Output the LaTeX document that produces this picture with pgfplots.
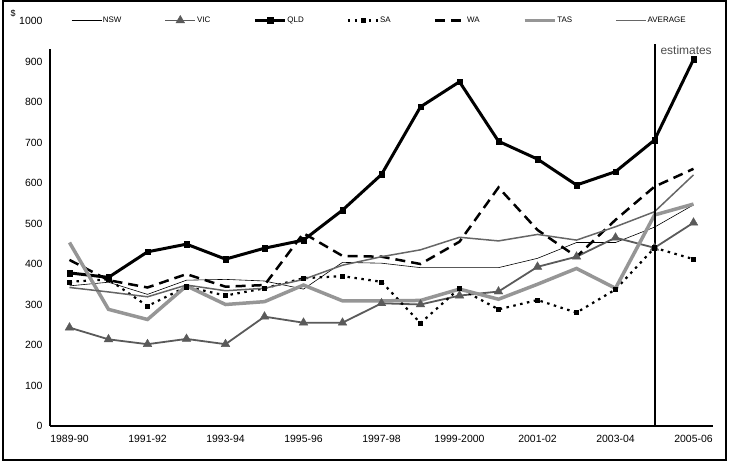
\documentclass[border=0pt]{standalone}
\usepackage{fontspec}
\setmainfont{Liberation Sans}
\usepackage{pgfplots}
\pgfplotsset{compat=1.18}
\usepackage{pgfplotstable}
\definecolor{vicgray}{HTML}{5A5A5A}
\definecolor{tasgray}{HTML}{969696}
\definecolor{avggray}{HTML}{666666}
\pgfplotstableread{
i NSW VIC QLD SA WA TAS AVG
0 346 243 378 356 410 453 342
1 355 214 367 362 360 288 331
2 325 202 430 296 342 263 319
3 360 215 449 344 375 346 348
4 362 202 412 322 344 300 334
5 358 270 439 340 348 307 340
6 338 255 459 365 476 348 362
7 404 255 533 370 420 309 397
8 402 303 621 356 418 309 418
9 391 300 788 254 400 310 435
10 391 322 850 340 455 338 466
11 391 332 703 288 589 313 457
12 414 393 659 311 484 350 473
13 453 418 595 280 418 389 459
14 453 465 628 337 509 340 492
15 491 440 706 440 591 521 529
16 546 502 905 412 635 548 620
}\data
\begin{document}
\begin{tikzpicture}
\useasboundingbox (0bp,0bp) rectangle (730bp,464bp);
\draw[line width=1.2bp] (3bp,4bp) rectangle (726bp,463bp);
\node[font=\fontsize{9}{10}\selectfont, inner sep=0pt] at (13bp,451bp) {\$};
\begin{axis}[
  at={(50bp,38bp)}, anchor=south west, scale only axis,
  width=663bp, height=405bp,
  xmin=-0.5, xmax=16.5, ymin=0, ymax=1000,
  axis x line*=bottom, axis y line*=left,
  y axis line style={draw=none},
  axis line style={line width=1.2bp},
  xtick={0,2,...,16},
  xticklabels={1989-90,1991-92,1993-94,1995-96,1997-98,1999-2000,2001-02,2003-04,2005-06},
  ytick={0,100,...,1000},
  major tick length=0pt,
  /pgf/number format/assume math mode=true,
  tick label style={font=\fontsize{10.5}{12}\selectfont},
  yticklabel style={/pgf/number format/1000 sep={}, xshift=-4bp},
  xticklabel style={yshift=-6bp},
  clip=false,
  legend columns=7,
  legend style={at={(0.0317,1.002)}, anchor=west, draw=none, fill=none, inner sep=0pt,
    font=\fontsize{8}{9}\selectfont, nodes={inner sep=1bp},
    /tikz/every even column/.append style={column sep=42bp}, cells={anchor=west}},
  legend image code/.code={\draw[mark repeat=2,mark phase=2,#1] plot coordinates {(0bp,0bp) (15bp,0bp) (30bp,0bp)};},
]
\addplot[black, line width=0.6bp] table[x=i,y=NSW]{\data};
\addlegendentry{NSW}
\addplot[vicgray, line width=1.8bp, mark=triangle*, mark size=5bp, mark options={solid, line width=0.4bp}] table[x=i,y=VIC]{\data};
\addlegendentry{VIC}
\addplot[black, line width=3bp, mark=square*, mark size=2.8bp, mark options={solid, line width=0.4bp}] table[x=i,y=QLD]{\data};
\addlegendentry{QLD}
\addplot[black, line width=2.2bp, dash pattern=on 2.5bp off 4.5bp, mark=square*, mark size=2.1bp, mark options={solid, line width=0.4bp}] table[x=i,y=SA]{\data};
\addlegendentry{SA}
\addplot[black, line width=2.5bp, dash pattern=on 10bp off 6bp] table[x=i,y=WA]{\data};
\addlegendentry{WA}
\addplot[tasgray, line width=3.5bp] table[x=i,y=TAS]{\data};
\addlegendentry{TAS}
\addplot[avggray, line width=1.5bp] table[x=i,y=AVG]{\data};
\addlegendentry{AVERAGE}
\draw[black, line width=1.2bp] (axis cs:-0.5,0) -- (axis cs:-0.5,930);
\draw[black, line width=2bp] (axis cs:15,0) -- (axis cs:15,943);
\node[anchor=west, font=\fontsize{12}{14}\selectfont, text=black!70, inner sep=0pt] at (axis cs:15.15,929) {estimates};
\end{axis}
\end{tikzpicture}
\end{document}
